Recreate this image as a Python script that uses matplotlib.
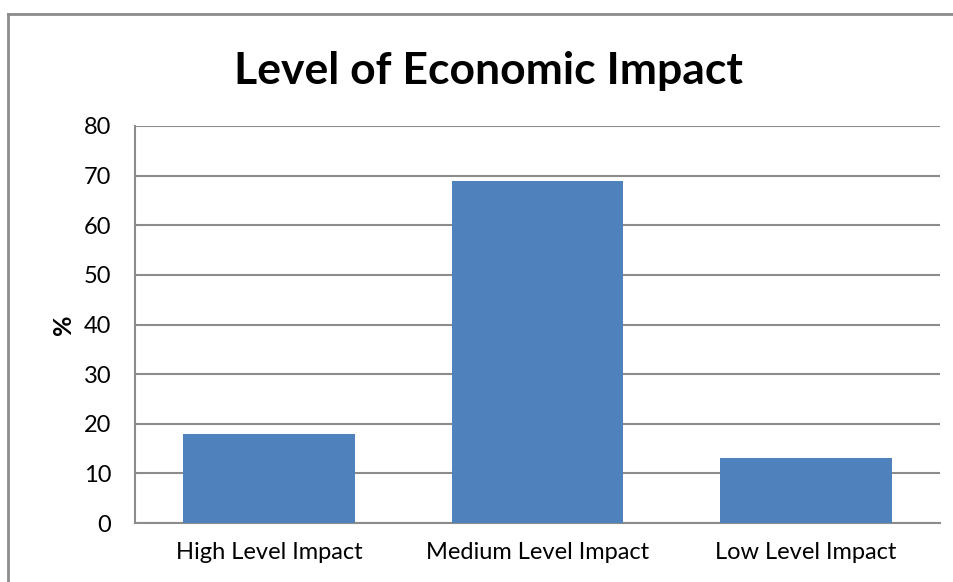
import numpy as np
import matplotlib.pyplot as plt
from matplotlib.lines import Line2D

plt.rcParams['font.family'] = ['Lato', 'DejaVu Sans']

categories = ['High Level Impact', 'Medium Level Impact', 'Low Level Impact']
values = [18, 69, 13]
yticks = [0, 10, 20, 30, 40, 50, 60, 70, 80]

W, H = 954, 582
fig = plt.figure(figsize=(W / 100, H / 100), dpi=100)
fig.patch.set_facecolor('white')

# chart border (cut off at right and bottom)
fig.add_artist(Line2D([8 / W, 1], [1 - 14 / H, 1 - 14 / H], color='#8c8c8c', lw=2))
fig.add_artist(Line2D([8 / W, 8 / W], [0, 1 - 14 / H], color='#8c8c8c', lw=2))

ax = fig.add_axes([135 / W, 1 - 523 / H, (940 - 135) / W, (523 - 126) / H])
x = np.arange(len(categories))
ax.bar(x, values, width=0.64, color='#4F81BD', zorder=3)

ax.set_xlim(-0.5, len(categories) - 0.5)
ax.set_ylim(0, 80)
ax.set_yticks(yticks)
ax.set_xticks(x)
ax.set_xticklabels(categories, fontsize=17)
ax.tick_params(axis='y', length=0, labelsize=17, pad=17)
ax.tick_params(axis='x', length=0, pad=14)
ax.grid(axis='y', color='#8c8c8c', lw=1.5, zorder=0)

for s in ['top', 'right']:
    ax.spines[s].set_visible(False)
for s in ['left', 'bottom']:
    ax.spines[s].set_color('#8c8c8c')
    ax.spines[s].set_linewidth(1.5)

ax.set_ylabel('%', fontsize=18, fontweight='bold', labelpad=6)
fig.text(488 / W, 1 - 71 / H, 'Level of Economic Impact', fontsize=32,
         fontweight='bold', ha='center', va='center')

plt.savefig('out.png', dpi=100, facecolor='white')
